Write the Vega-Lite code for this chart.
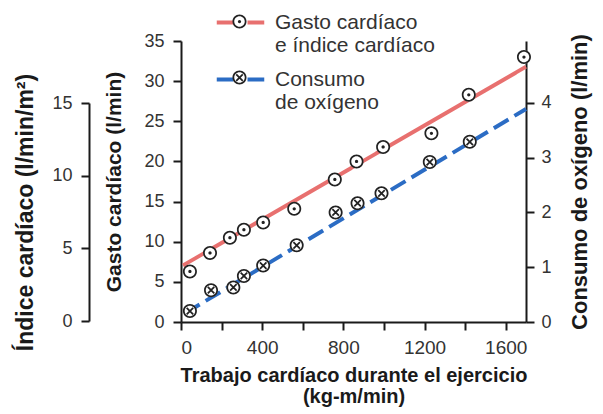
{
  "$schema": "https://vega.github.io/schema/vega-lite/v6.json",
  "width": 345,
  "height": 281,
  "autosize": "none",
  "padding": {"left": 181, "top": 41, "right": 77, "bottom": 92},
  "background": "white",
  "config": {
    "view": {"stroke": null},
    "font": "Liberation Sans",
    "axis": {
      "grid": false,
      "domainColor": "#1a1a1a",
      "domainWidth": 2,
      "tickColor": "#1a1a1a",
      "tickWidth": 2,
      "tickSize": 8,
      "labelFont": "Liberation Sans",
      "labelFontSize": 18,
      "labelColor": "#333333",
      "labelPadding": 9,
      "titleFont": "Liberation Sans",
      "titleFontSize": 20,
      "titleFontWeight": "bold",
      "titleColor": "#1a1a1a",
      "titlePadding": 12
    }
  },
  "datasets": {
    "gasto": [
      {"trabajo": 44, "gasto": 6.3},
      {"trabajo": 143, "gasto": 8.6},
      {"trabajo": 241, "gasto": 10.5},
      {"trabajo": 310, "gasto": 11.5},
      {"trabajo": 405, "gasto": 12.4},
      {"trabajo": 558, "gasto": 14.1},
      {"trabajo": 758, "gasto": 17.75},
      {"trabajo": 865, "gasto": 20.0},
      {"trabajo": 996, "gasto": 21.8},
      {"trabajo": 1234, "gasto": 23.5},
      {"trabajo": 1418, "gasto": 28.3},
      {"trabajo": 1690, "gasto": 33.0}
    ],
    "o2": [
      {"trabajo": 44, "o2": 0.2},
      {"trabajo": 148, "o2": 0.58},
      {"trabajo": 258, "o2": 0.63},
      {"trabajo": 310, "o2": 0.84},
      {"trabajo": 405, "o2": 1.03},
      {"trabajo": 570, "o2": 1.4},
      {"trabajo": 762, "o2": 2.0},
      {"trabajo": 870, "o2": 2.17},
      {"trabajo": 988, "o2": 2.35},
      {"trabajo": 1226, "o2": 2.92},
      {"trabajo": 1423, "o2": 3.29}
    ],
    "lineaG": [
      {"serie": "Gasto cardíaco e índice cardíaco", "trabajo": 10, "gasto": 7.05},
      {"serie": "Gasto cardíaco e índice cardíaco", "trabajo": 1700, "gasto": 31.8}
    ],
    "lineaO": [
      {"serie": "Consumo de oxígeno", "trabajo": 20, "o2": 0.16},
      {"serie": "Consumo de oxígeno", "trabajo": 1700, "o2": 3.89}
    ],
    "indice": [
      {"indice": 0},
      {"indice": 15}
    ]
  },
  "layer": [
    {
      "encoding": {
        "x": {
          "field": "trabajo", "type": "quantitative",
          "scale": {"domain": [0, 1700], "nice": false},
          "axis": {
            "values": [0, 200, 400, 600, 800, 1000, 1200, 1400, 1600],
            "labelExpr": "datum.value % 400 == 0 ? datum.label : ''",
            "format": "d",
            "labelFontSize": 19,
            "labelPadding": 8,
            "titleFontSize": 20,
            "titlePadding": 8,
            "titleLineHeight": 21,
            "title": ["Trabajo cardíaco durante el ejercicio", "(kg-m/min)"]
          }
        },
        "y": {
          "field": "gasto", "type": "quantitative",
          "scale": {"domain": [0, 35], "nice": false},
          "axis": {
            "orient": "left",
            "values": [0, 5, 10, 15, 20, 25, 30, 35],
            "titleFontSize": 21,
            "titlePadding": 19,
            "title": "Gasto cardíaco (l/min)"
          }
        }
      },
      "layer": [
        {
          "data": {"name": "lineaG"},
          "mark": {"type": "line", "strokeWidth": 4, "strokeCap": "butt"},
          "encoding": {
            "stroke": {
              "field": "serie", "type": "nominal",
              "scale": {
                "domain": ["Gasto cardíaco e índice cardíaco", "Consumo de oxígeno"],
                "range": ["#e8706f", "#2b6cc4"]
              },
              "legend": {
                "orient": "none",
                "legendX": 45,
                "legendY": -33,
                "title": null,
                "padding": 0,
                "symbolType": "M-1.9,0H-0.56M0.56,0H1.9",
                "symbolSize": 625,
                "symbolStrokeWidth": 4,
                "labelFont": "Liberation Sans",
                "labelFontSize": 21,
                "labelColor": "#333333",
                "labelOffset": 20,
                "rowPadding": 9,
                "labelExpr": "datum.value == 'Consumo de oxígeno' ? ['Consumo', 'de oxígeno'] : ['Gasto cardíaco', 'e índice cardíaco']"
              }
            },
            "strokeDash": {
              "field": "serie", "type": "nominal",
              "scale": {
                "domain": ["Gasto cardíaco e índice cardíaco", "Consumo de oxígeno"],
                "range": [[1, 0], [17, 7]]
              }
            }
          }
        },
        {
          "data": {"name": "gasto"},
          "mark": {"type": "point", "shape": "circle", "filled": true, "fill": "white", "strokeWidth": 0, "opacity": 1, "size": 180}
        },
        {
          "data": {"name": "gasto"},
          "transform": [{"calculate": "'a'", "as": "mk"}],
          "mark": {"type": "point", "filled": true, "fill": "#222222", "strokeWidth": 0, "opacity": 1, "size": 625},
          "encoding": {
            "shape": {
              "field": "mk", "type": "nominal",
              "scale": {
                "domain": ["a", "b"],
                "range": [
                  "M-0.56,0A0.56,0.56 0 1,1 0.56,0A0.56,0.56 0 1,1 -0.56,0ZM-0.42,0A0.42,0.42 0 1,0 0.42,0A0.42,0.42 0 1,0 -0.42,0ZM-0.13,0A0.13,0.13 0 1,1 0.13,0A0.13,0.13 0 1,1 -0.13,0Z",
                  "M-0.56,0A0.56,0.56 0 1,1 0.56,0A0.56,0.56 0 1,1 -0.56,0ZM-0.42,0A0.42,0.42 0 1,0 0.42,0A0.42,0.42 0 1,0 -0.42,0ZM-0.21,-0.31L0.31,0.21L0.21,0.31L-0.31,-0.21ZM-0.31,0.21L0.21,-0.31L0.31,-0.21L-0.21,0.31Z"
                ]
              },
              "legend": {
                "orient": "none",
                "legendX": 45,
                "legendY": -33,
                "title": null,
                "padding": 0,
                "symbolSize": 625,
                "symbolFillColor": "#222222",
                "labelFont": "Liberation Sans",
                "labelFontSize": 21,
                "labelOpacity": 0,
                "labelOffset": 20,
                "rowPadding": 9,
                "labelExpr": "[' ', ' ']"
              }
            }
          }
        }
      ]
    },
    {
      "encoding": {
        "x": {"field": "trabajo", "type": "quantitative", "scale": {"domain": [0, 1700], "nice": false}},
        "y": {
          "field": "o2", "type": "quantitative",
          "scale": {"domain": [0, 5.13], "nice": false},
          "axis": {
            "orient": "right",
            "values": [0, 1, 2, 3, 4],
            "labelPadding": 7,
            "titleAngle": 270,
            "titleFontSize": 22,
            "titlePadding": 40,
            "title": "Consumo de oxígeno (l/min)"
          }
        }
      },
      "layer": [
        {
          "data": {"name": "lineaO"},
          "mark": {"type": "line", "strokeWidth": 4, "strokeCap": "butt"},
          "encoding": {
            "stroke": {"field": "serie", "type": "nominal"},
            "strokeDash": {"field": "serie", "type": "nominal"}
          }
        },
        {
          "data": {"name": "o2"},
          "mark": {"type": "point", "shape": "circle", "filled": true, "fill": "white", "strokeWidth": 0, "opacity": 1, "size": 180}
        },
        {
          "data": {"name": "o2"},
          "transform": [{"calculate": "'b'", "as": "mk"}],
          "mark": {"type": "point", "filled": true, "fill": "#222222", "strokeWidth": 0, "opacity": 1, "size": 625},
          "encoding": {"shape": {"field": "mk", "type": "nominal"}}
        }
      ]
    },
    {
      "data": {"name": "indice"},
      "mark": {"type": "point", "opacity": 0},
      "encoding": {
        "y": {
          "field": "indice", "type": "quantitative",
          "scale": {"domain": [0, 15], "nice": false, "range": [280, 62]},
          "axis": {
            "orient": "left",
            "offset": 92,
            "values": [0, 5, 10, 15],
            "titleFontSize": 23,
            "titlePadding": 14,
            "title": "Índice cardíaco (l/min/m²)"
          }
        }
      }
    }
  ],
  "resolve": {"scale": {"y": "independent"}}
}
